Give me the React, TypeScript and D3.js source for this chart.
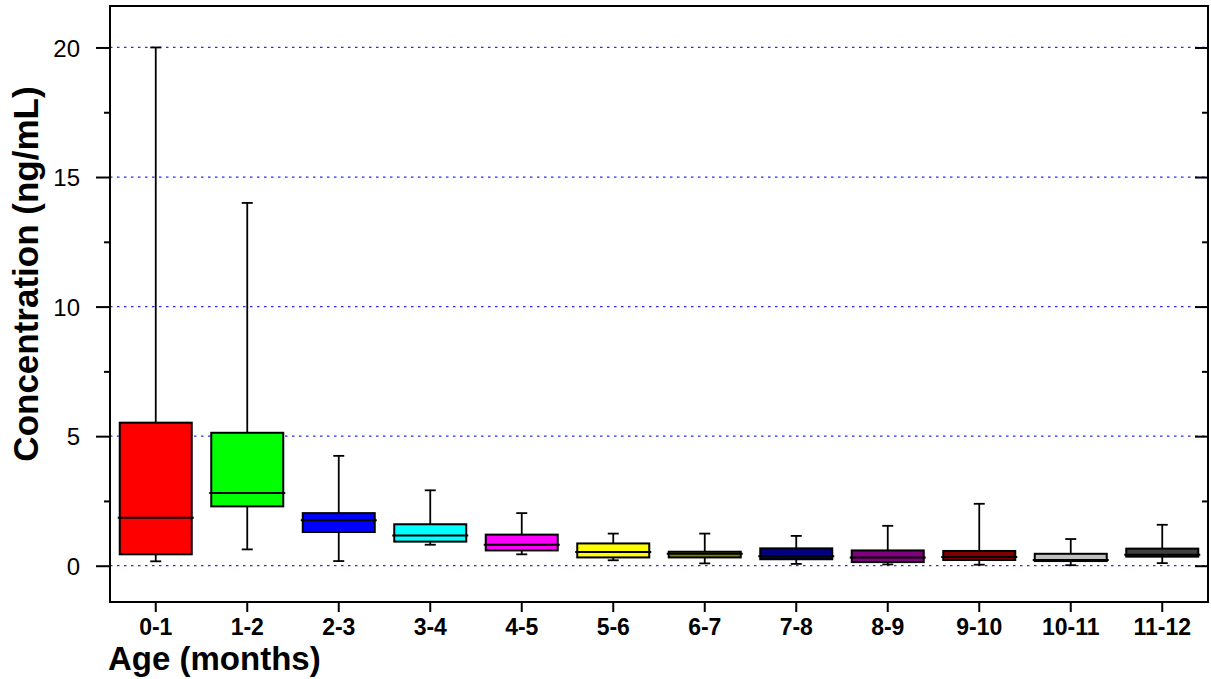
import React, { useEffect, useRef } from 'react';
import * as d3 from 'd3';

const categories = ['0-1', '1-2', '2-3', '3-4', '4-5', '5-6', '6-7', '7-8', '8-9', '9-10', '10-11', '11-12'];
const whiskerLow = [0.17, 0.63, 0.18, 0.81, 0.44, 0.21, 0.09, 0.07, 0.05, 0.04, 0.02, 0.1];
const q1 = [0.44, 2.29, 1.3, 0.93, 0.59, 0.32, 0.32, 0.25, 0.14, 0.22, 0.18, 0.35];
const median = [1.85, 2.81, 1.75, 1.17, 0.81, 0.53, 0.46, 0.37, 0.32, 0.34, 0.22, 0.42];
const q3 = [5.52, 5.13, 2.03, 1.6, 1.2, 0.86, 0.54, 0.67, 0.59, 0.57, 0.46, 0.66];
const whiskerHigh = [20, 14, 4.24, 2.91, 2.03, 1.24, 1.24, 1.15, 1.54, 2.39, 1.03, 1.58];
const boxColors = ['#ff0000', '#00ff00', '#0000ff', '#00ffff', '#ff00ff', '#ffff00', '#808000', '#000080', '#800080', '#800000', '#c0c0c0', '#404040'];
const majorTicks = [0, 5, 10, 15, 20];
const minorTicks = [2.5, 7.5, 12.5, 17.5];

const W = 1211;
const H = 679;
const plot = { left: 110, right: 1208, top: 6, bottom: 602 };
const font = '"Liberation Sans", Arial, Helvetica, sans-serif';

const BoxChart = () => {
  const ref = useRef(null);

  useEffect(() => {
    const svg = d3.select(ref.current);
    svg.selectAll('*').remove();

    const x = d3.scaleBand().domain(categories).range([plot.left, plot.right]).padding(0);
    const y = d3.scaleLinear().domain([-1.4, 21.6]).range([plot.bottom, plot.top]);
    const boxW = 72;
    const capW = 11;

    // grid
    svg.append('g')
      .selectAll('line')
      .data(majorTicks)
      .enter()
      .append('line')
      .attr('x1', plot.left)
      .attr('x2', plot.right)
      .attr('y1', d => y(d))
      .attr('y2', d => y(d))
      .attr('stroke', '#2a2aff')
      .attr('stroke-width', 1.3)
      .attr('stroke-dasharray', '2.5,4.5');

    const rows = categories.map((c, i) => ({
      c, lo: whiskerLow[i], q1: q1[i], med: median[i], q3: q3[i], hi: whiskerHigh[i], color: boxColors[i]
    }));

    const g = svg.append('g')
      .selectAll('g')
      .data(rows)
      .enter()
      .append('g')
      .attr('transform', d => `translate(${x(d.c) + x.bandwidth() / 2},0)`);

    // whiskers
    g.append('line')
      .attr('x1', 0).attr('x2', 0)
      .attr('y1', d => y(d.hi)).attr('y2', d => y(d.q3))
      .attr('stroke', '#000').attr('stroke-width', 1.8);
    g.append('line')
      .attr('x1', 0).attr('x2', 0)
      .attr('y1', d => y(d.lo)).attr('y2', d => y(d.q1))
      .attr('stroke', '#000').attr('stroke-width', 1.8);
    g.append('line')
      .attr('x1', -capW / 2).attr('x2', capW / 2)
      .attr('y1', d => y(d.hi)).attr('y2', d => y(d.hi))
      .attr('stroke', '#000').attr('stroke-width', 1.8);
    g.append('line')
      .attr('x1', -capW / 2).attr('x2', capW / 2)
      .attr('y1', d => y(d.lo)).attr('y2', d => y(d.lo))
      .attr('stroke', '#000').attr('stroke-width', 1.8);

    // boxes
    g.append('rect')
      .attr('x', -boxW / 2)
      .attr('width', boxW)
      .attr('y', d => y(d.q3))
      .attr('height', d => y(d.q1) - y(d.q3))
      .attr('fill', d => d.color)
      .attr('stroke', '#000')
      .attr('stroke-width', 2);
    g.append('line')
      .attr('x1', -boxW / 2 - 2).attr('x2', boxW / 2 + 2)
      .attr('y1', d => y(d.med)).attr('y2', d => y(d.med))
      .attr('stroke', '#000').attr('stroke-width', 2);

    // frame
    svg.append('rect')
      .attr('x', plot.left).attr('y', plot.top)
      .attr('width', plot.right - plot.left).attr('height', plot.bottom - plot.top)
      .attr('fill', 'none').attr('stroke', '#000').attr('stroke-width', 2);

    // left axis
    const left = d3.axisLeft(y).tickValues(majorTicks).tickSize(14).tickFormat(d3.format('d'));
    const la = svg.append('g').attr('transform', `translate(${plot.left},0)`).call(left);
    la.select('.domain').remove();
    la.selectAll('line').attr('stroke-width', 2);
    la.selectAll('text')
      .attr('x', -30).attr('dy', '0.36em')
      .style('font-family', font).style('font-size', '24px').attr('fill', '#000');
    const lm = svg.append('g').attr('transform', `translate(${plot.left},0)`)
      .call(d3.axisLeft(y).tickValues(minorTicks).tickSize(6).tickFormat(() => ''));
    lm.select('.domain').remove();
    lm.selectAll('line').attr('stroke-width', 2);

    // right axis (inward ticks)
    const ra = svg.append('g').attr('transform', `translate(${plot.right},0)`)
      .call(d3.axisLeft(y).tickValues(majorTicks).tickSize(13).tickFormat(() => ''));
    ra.select('.domain').remove();
    ra.selectAll('line').attr('stroke-width', 2);
    const rm = svg.append('g').attr('transform', `translate(${plot.right},0)`)
      .call(d3.axisLeft(y).tickValues(minorTicks).tickSize(6).tickFormat(() => ''));
    rm.select('.domain').remove();
    rm.selectAll('line').attr('stroke-width', 2);

    // bottom axis
    const ba = svg.append('g').attr('transform', `translate(0,${plot.bottom})`)
      .call(d3.axisBottom(x).tickSize(10).tickPadding(7));
    ba.select('.domain').remove();
    ba.selectAll('line').attr('stroke-width', 2);
    ba.selectAll('text')
      .style('font-family', font).style('font-size', '23px').style('font-weight', 'bold').attr('fill', '#000');

    // titles
    svg.append('text')
      .attr('x', 108).attr('y', 670)
      .style('font-family', font).style('font-size', '33px').style('font-weight', 'bold')
      .text('Age (months)');
    svg.append('text')
      .attr('transform', 'translate(38,274) rotate(-90)')
      .attr('text-anchor', 'middle')
      .style('font-family', font).style('font-size', '35px').style('font-weight', 'bold')
      .text('Concentration (ng/mL)');
  }, []);

  return <svg ref={ref} width={W} height={H} style={{ position: 'absolute', left: 0, top: 0, background: '#fff' }} />;
};

export default function App() {
  return <BoxChart />;
}
